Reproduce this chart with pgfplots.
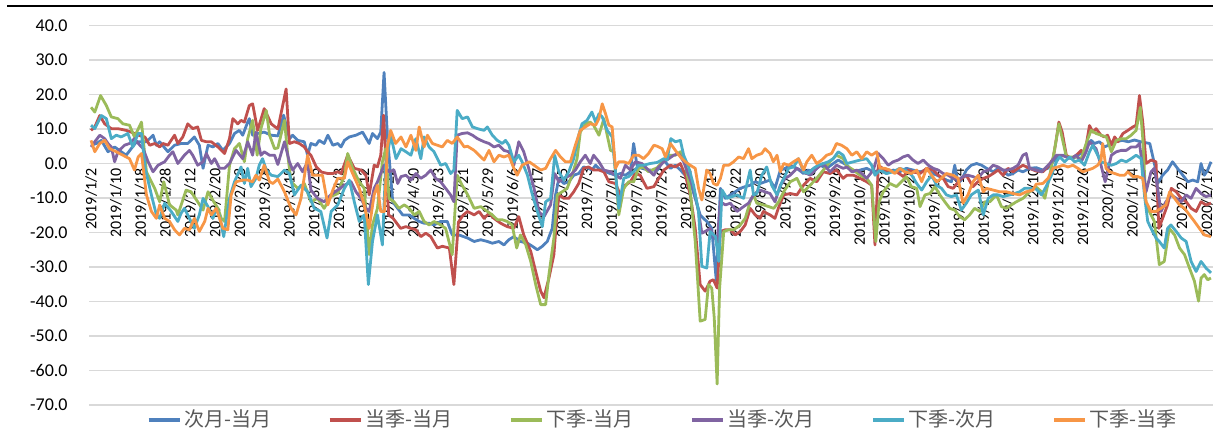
\documentclass[border=0pt]{standalone}
\usepackage{pgfplots}
\pgfplotsset{compat=1.18}
\usepackage{fontspec}
\setmainfont{Carlito}
\newfontfamily\cjk{Noto Sans CJK SC}
\definecolor{sA}{HTML}{4F81BD}
\definecolor{sB}{HTML}{C0504D}
\definecolor{sC}{HTML}{9BBB59}
\definecolor{sD}{HTML}{8064A2}
\definecolor{sE}{HTML}{4BACC6}
\definecolor{sF}{HTML}{F79646}
\definecolor{gridc}{HTML}{D9D9D9}
\begin{document}
\begin{tikzpicture}
\path[use as bounding box] (0,-219.5pt) rectangle (606.5pt,0);
\draw[black, line width=1.1pt] (3.5pt,-3pt) -- (606.5pt,-3pt);
\begin{axis}[
  at={(44.5pt,-202.5pt)}, anchor=south west,
  scale only axis, width=562pt, height=189.75pt,
  xmin=-0.5, xmax=271.5, ymin=-70, ymax=40,
  axis line style={draw=none},
  major tick length=0pt,
  ymajorgrids, grid style={gridc, line width=0.6pt},
  ytick={-70,-60,...,40},
  yticklabels={-70.0,-60.0,-50.0,-40.0,-30.0,-20.0,-10.0,0.0,10.0,20.0,30.0,40.0},
  yticklabel style={font=\fontsize{9}{10}\selectfont, inner sep=0pt, anchor=east, xshift=-10.5pt},
  xtick={0,6,...,270},
  xticklabels={2019/1/2,2019/1/10,2019/1/18,2019/1/28,2019/2/12,2019/2/20,2019/2/28,2019/3/8,2019/3/18,2019/3/26,2019/4/3,2019/4/12,2019/4/22,2019/4/30,2019/5/13,2019/5/21,2019/5/29,2019/6/6,2019/6/17,2019/6/25,2019/7/3,2019/7/11,2019/7/19,2019/7/29,2019/8/6,2019/8/14,2019/8/22,2019/8/30,2019/9/9,2019/9/18,2019/9/26,2019/10/11,2019/10/21,2019/10/29,2019/11/6,2019/11/14,2019/11/22,2019/12/2,2019/12/10,2019/12/18,2019/12/26,2020/1/6,2020/1/14,2020/1/22,2020/2/7,2020/2/17},
  xticklabel style={font=\fontsize{8}{9}\selectfont, inner sep=0pt, yshift=118.5pt, rotate=90, anchor=east},
  every axis plot/.append style={no markers, line width=1.4pt, line join=round},
  legend columns=6,
  legend style={at={(axis description cs:0.0516,-0.0395)}, anchor=west, draw=none, fill=none, inner sep=0pt, outer sep=0pt,
    font=\cjk\fontsize{10}{11}\selectfont, text=black!65,
    nodes={inner sep=1.5pt},
    /tikz/every even column/.append style={column sep=27pt}},
  legend image code/.code={\draw[#1, line width=1.6pt] (0pt,0pt) -- (15.5pt,0pt);},
]
\addplot[sA] coordinates {(0,5.3)(1.3,5.8)(2.5,6.7)(4.1,3.4)(5.7,4.8)(7.3,3.4)(8.5,2.4)(9.7,4.3)(11,6.3)(13.4,6.3)(15,8.2)(15.8,5.3)(16.6,6.3)(18.6,3.4)(20.2,5.3)(21.8,5.8)(23.4,5.8)(25,7.7)(26.2,5.3)(27.1,-1.4)(28.3,5.3)(29.5,4.8)(30.7,5.8)(31.9,3.8)(33.5,5.8)(34.7,8.7)(35.9,9.6)(36.7,8.2)(37.9,12)(38.3,13)(39.1,8.2)(40.3,8.7)(41.9,9.1)(43.6,8.2)(45.2,8)(46.6,14)(48,7.2)(48.8,8.2)(50,6.7)(51.6,6.3)(52.4,2.4)(53.2,5.8)(54.4,5.3)(55.2,6.7)(56.4,5.8)(57.3,8.2)(58.5,5.3)(59.7,5.8)(60.5,4.8)(61.3,6.7)(62.5,7.7)(64.1,8.2)(65.7,9.1)(67.3,5.8)(68.1,8.7)(69.3,7.2)(70.1,9.1)(70.9,26.4)(71.7,8.2)(73,-11.1)(74.2,-13)(75.4,-14.9)(77,-14.9)(78.2,-15.9)(79.4,-16.8)(80.6,-17.3)(81.8,-17.3)(83,-17.8)(84.6,-16.8)(86.2,-16.8)(87.4,-20.7)(89,-20.7)(91.1,-21.6)(92.7,-22.6)(94.3,-22.1)(95.9,-22.6)(97.1,-23.1)(98.7,-22.6)(99.9,-23.6)(101.1,-22.1)(102.3,-21.2)(103.9,-22.6)(105.6,-23.1)(106.8,-24)(108,-25)(109.2,-24)(110.4,-22.6)(111.6,-18.8)(112.4,-9.1)(113.2,-4.3)(114.4,-5.8)(115.6,-5.3)(116.8,-3.4)(118,-2.9)(119.2,-1)(120.4,-1.4)(121.2,-1.9)(122.1,-0.5)(123.3,-1.9)(124.5,-2.4)(125.7,-2.9)(126.9,-3.4)(128.1,-2.9)(129.3,-3.4)(130.5,-2.4)(131.3,5.8)(132.1,-0.5)(133.3,-1.4)(134.9,-1.9)(137,-2)(138.6,1)(140.2,-1.4)(141.4,-0.5)(142.6,-1.9)(143.8,-3.4)(145,-5.3)(146.2,-10.1)(147.4,-14.9)(148.2,-15.9)(149,-16.8)(150.2,-18.8)(151.3,-34)(152.3,-7.2)(153.5,-10.1)(154.7,-9.1)(155.9,-8.2)(157.1,-7.2)(158.3,-6.7)(159.5,-6.3)(160.7,-5.3)(161.9,-5.8)(163.1,-5.3)(164.3,-4.8)(165.5,-7.2)(166.8,-1.9)(168,-1.4)(169.2,-0.5)(170.8,-1.4)(172.4,-2.9)(173.6,-1.9)(174.8,-2.4)(176.4,-0.5)(178,-1.4)(179.6,0)(180.8,1)(182.9,-0.5)(184.5,-2.4)(186.1,-1.9)(187.7,-1.4)(189.3,-2.4)(190.9,-1.9)(192.5,-2.9)(194.1,-1.9)(195.7,-2.4)(197.3,-1.4)(198.9,-1.9)(200.6,-2.4)(202.2,-1.9)(203.8,-2.9)(205.4,-3.8)(207,-4.8)(208.2,-5.3)(209,-0.5)(209.8,-5.8)(210.6,-4.8)(211.8,-1.9)(213,-0.5)(214.3,0)(215.5,-0.5)(216.7,-1.4)(218.3,-2.4)(219.5,-1.4)(220.7,-1.9)(221.9,-3.4)(223.1,-2.9)(224.3,-1.9)(225.5,-2.4)(227.1,-1.4)(228.7,-1.2)(230.3,-1.9)(231.5,-1.4)(232.8,0.5)(234,1.9)(235.2,2.4)(236.4,1.9)(237.6,1.4)(238.8,2.4)(240,3.4)(241.2,5.3)(242,6.7)(242.8,5.8)(244,6.3)(245.2,4.8)(246.6,5.5)(248,6.3)(249.5,6.7)(251,6.3)(252.5,6.8)(254,6.3)(256.2,5.8)(257.4,-0.5)(258.1,-5.8)(259.3,-3.4)(260.5,-1.9)(261.7,0.5)(262.9,-1.4)(264.2,-3.4)(265.4,-5.3)(266.6,-4.8)(267.8,-5.3)(268.6,0)(269.4,-3.4)(270.2,-1.9)(271,0.5)};
\addlegendentry{次月-当月}
\addplot[sB] coordinates {(0,9.6)(0.9,10.6)(2.1,13.9)(3.3,11.5)(4.9,10.1)(6.5,10.1)(8.5,9.6)(9.7,9.1)(11.4,8.2)(13,7.7)(14.2,5.3)(15.4,5.8)(16.6,4.8)(17.4,5.8)(18.6,5.3)(20.2,8.2)(21,5.8)(22.2,7.7)(23.4,11.5)(24.6,10.1)(25.8,10.6)(26.7,6.7)(27.9,6.3)(29.1,6.3)(30.7,4.8)(32.3,2.9)(33.5,7.2)(34.3,13)(35.5,11.5)(36.3,12.5)(37.1,12)(38.3,16.8)(39.1,17.3)(40.3,9.6)(41.9,15.9)(43.6,11.5)(45.2,10)(47.2,21.6)(48,5.8)(49.2,6.3)(50.4,5.8)(51.6,4.8)(52.4,3.4)(53.2,2.4)(54.5,-1)(55.8,-2.5)(57.3,-2.9)(58.5,-2.9)(59.7,-2.4)(60.5,-2.9)(62.1,2.4)(63.7,-1.4)(65.3,-1.9)(66.5,-3.4)(67.3,-9.1)(68.5,-0.5)(69.3,-1)(70.1,2.4)(70.8,14)(72,-14.9)(73.1,-15.9)(74.9,-18.8)(76.2,-18.3)(77.4,-18.8)(78.6,-19.2)(79.8,-21.2)(81,-20.2)(82.2,-21.2)(83.8,-24.5)(85,-24)(86.7,-24.5)(87.8,-35.1)(88.9,-17)(90,-15)(91.1,-13.9)(92.7,-14.9)(93.9,-13.9)(95.1,-15.9)(96.3,-14.4)(97.5,-15.9)(99.1,-17.3)(100.7,-18.3)(102.3,-18.8)(103.5,-15.4)(104.7,-20.7)(106.4,-25.5)(107.6,-31.3)(108.8,-37)(109.6,-38.9)(110.8,-33.2)(112,-26.4)(112.6,-16.8)(113.2,-9.1)(114.4,-10.1)(115.6,-10.1)(116.8,-8.2)(118,-5.8)(119.2,-1.4)(120.4,-1)(121.6,-1.9)(122.9,-1.9)(124.1,-2.4)(125.3,-5.3)(126.9,-5.8)(128.1,-9.1)(129.3,-6.3)(130.5,-5.3)(131.7,-2.9)(132.9,-3.4)(134.5,-7.2)(136.2,-6.7)(137,-5)(138.6,-1.9)(140.2,-0.5)(141.4,-1)(142.6,0)(143.8,-3.4)(145,-9.1)(146.2,-18.8)(147.4,-35.1)(148.6,-37)(149.8,-34.1)(150.6,-33.7)(151.5,-36.1)(152.3,-19.7)(153.5,-19.2)(154.7,-19.2)(155.9,-20.7)(157.1,-19.7)(158.3,-17.8)(159.5,-13)(160.7,-14.9)(161.9,-15.9)(162.7,-13.9)(164.3,-14.9)(165.5,-15.9)(166.3,-13)(167.6,-9.1)(169.2,-8.7)(170.8,-9.1)(172.4,-6.3)(174,-4.3)(175.6,-5.3)(177.2,-2.4)(178.8,-2.9)(180.4,-1.9)(182,-4.3)(182.9,-3.4)(184.5,-3.4)(186.1,-4.3)(187.7,-5.3)(188.9,-6.3)(189.7,-23.6)(190.5,-0.5)(192.1,-1.9)(193.3,-2.4)(194.9,-2.4)(196.6,-3.8)(197.7,-1.9)(198.9,-2.4)(200.6,-2.9)(202.2,-1.4)(203.8,-1.9)(205,-3.4)(206.2,-4.3)(207.4,-6.7)(208.6,-7.2)(210.2,-4.8)(211.8,-3.4)(213.4,-6.7)(214.6,-5.3)(215.9,-4.3)(217.1,-3.8)(218.3,-2.9)(219.5,-1.9)(220.7,-3.4)(221.9,-1.4)(223.1,-2.4)(224.3,-1.4)(225.5,-0.5)(227.1,-1.4)(228.7,-2.2)(230.3,-2.4)(231.5,-1)(232.8,1.4)(233.6,7.2)(234.2,12)(235,9.1)(236,2.4)(237.2,1.4)(238.4,2.4)(239.6,3.8)(240.4,2.4)(241.6,11)(242.4,9.1)(243.2,10.1)(244.4,8.2)(245.2,7.7)(246,8.2)(246.9,5.3)(247.7,7.7)(248.5,6.3)(249.7,8.7)(250.9,9.6)(252.1,10.6)(252.9,11.1)(253.7,19.7)(254.5,12)(255.3,0)(256.5,1)(257.7,0.5)(258.4,-18.8)(259.3,-15.9)(260.5,-12)(261.4,-7.2)(262.6,-8.2)(263.8,-10.1)(265,-11.1)(266.2,-13)(267.4,-13.9)(268.6,-11.1)(269.8,-12)(271,-11.5)};
\addlegendentry{当季-当月}
\addplot[sC] coordinates {(0,16.3)(0.9,14.9)(2.3,19.7)(3.7,16.8)(4.9,13.5)(6.5,13)(7.7,11.5)(9.3,11.1)(10.5,7.7)(12.2,12)(13.4,-2.4)(15.4,-7.2)(16.6,-11.1)(17.6,-5.3)(19,-12)(20.6,-13.5)(21,-14.9)(23,-7.7)(24.2,-8.2)(25.8,-11.1)(27.1,-13.5)(28.3,-8.2)(29.7,-11.1)(30.7,-13)(31.5,-15.9)(32.3,-16.8)(33.5,-0.5)(34.7,4.3)(35.9,5.8)(37.1,0.5)(37.9,7.2)(39.1,12.5)(40.2,2.4)(41.1,10.1)(42.4,15.4)(43.2,8.2)(44.4,4.3)(45.2,4.5)(46.8,12.5)(47.6,2.4)(48.4,-5.3)(50,-7.2)(51.6,-5.8)(53.2,-11.1)(54.8,-10.1)(56.4,-13)(58,-9.6)(59.7,-8.7)(61.3,-3.4)(62.1,2.9)(63.3,-1.4)(64.9,-5.3)(66.1,-7.2)(67.3,-26.4)(68.1,-17.8)(69.3,-13)(70.5,0.5)(71.3,4.3)(72.1,-10.1)(73.3,-11.1)(74.5,-13)(75.8,-12)(77,-13)(78.2,-14.9)(79.4,-13.9)(80.6,-16.8)(81.8,-17.8)(83,-16.8)(84.6,-17.8)(85.8,-18.8)(87.4,-26.4)(88.6,-3.4)(89.8,-6.3)(91.1,-9)(92.7,-13)(94.3,-12.5)(95.9,-13.9)(97.1,-14.9)(98.3,-16.3)(99.5,-16.3)(100.7,-16.8)(101.9,-17.8)(103,-24.5)(103.9,-20.7)(105.2,-23.6)(106.4,-28.4)(107.6,-35.1)(108.8,-40.9)(110,-40.9)(110.8,-32.2)(112,-21.6)(112.8,-9.1)(114,-8.2)(115.2,-7.2)(116.4,-3.4)(117.6,1.4)(118.4,9.1)(119.6,11.5)(120.8,12)(121.6,11.1)(122.9,8.2)(124.1,13)(124.9,8.2)(125.7,3.8)(126.5,3.4)(127.3,-8.2)(127.7,-14.9)(128.9,-7.2)(130.1,-5.3)(131.3,-5.3)(132.5,-1.4)(133.7,-1)(134.9,-2.4)(137,-1.2)(138.6,1)(140.2,2.4)(141.4,2.4)(142.6,3.4)(143.8,0)(145,-8.2)(146.2,-22.6)(147.4,-45.7)(148.6,-45.2)(149.4,-35.1)(150.2,-36.1)(150.8,-44.7)(151.5,-63.9)(152.1,-36.1)(153.1,-19.7)(154.3,-19.2)(155.5,-19.2)(157.1,-17.8)(158.3,-15.9)(159.5,-11.1)(160.3,-9.1)(161.1,-11.5)(162.7,-12)(164,-12.5)(165.2,-13)(166.4,-11.1)(167.6,-8.2)(169.2,-5.3)(170.8,-4.3)(172.4,-8.2)(174,-6.3)(175.6,-4.3)(177.2,-1.9)(178.8,0.5)(180.4,2.4)(182,1.4)(182.9,-0.7)(184.5,-1.9)(186.1,-3.4)(187.7,-4.3)(188.9,-6.3)(189.9,-22.6)(190.7,-11.1)(191.7,-8.2)(193.3,-5.8)(194.9,-6.7)(196.1,-5.3)(197.3,-3.8)(198.5,-6.7)(199.8,-7.2)(200.6,-12.5)(201.8,-9.1)(203,-8.7)(204.2,-6.7)(205.4,-9.1)(206.6,-11.1)(207.8,-13)(209,-13.5)(210.2,-15.4)(211.4,-16.3)(212.6,-14.9)(213.8,-13)(215.1,-13.9)(216.3,-11.1)(217.5,-11.1)(219.1,-9.1)(220.3,-12.5)(221.5,-13)(222.7,-12)(223.9,-11.1)(225.5,-10.1)(227.1,-8.2)(228.7,-6.8)(230,-8.2)(230.8,-10.1)(232,-3.4)(233.2,4.3)(234.2,11.5)(235.2,6.3)(236,1.9)(237.2,1.9)(238.4,1.9)(239.6,1.4)(240.8,5.8)(242,9.6)(243.2,8.7)(244.4,8.2)(245.7,7.7)(246.9,3.4)(248.1,6.7)(249.3,7.2)(250.5,7.2)(251.7,8.2)(252.9,9.6)(253.9,16.3)(254.5,7.2)(255.3,-12)(256.5,-14.9)(257.3,-16.8)(258.5,-29.3)(259.7,-28.4)(260.9,-18.8)(262.2,-20.7)(263.4,-24.5)(264.6,-26.4)(265.8,-30.3)(267,-34.1)(268,-39.9)(268.6,-33.2)(269.4,-32.2)(270.2,-33.7)(271,-33.2)};
\addlegendentry{下季-当月}
\addplot[sD] coordinates {(0,4.8)(0.9,6.3)(2.1,8.2)(3.3,7.2)(4.1,5.8)(4.9,4.8)(5.7,0.5)(6.5,3.4)(8.1,5.3)(9.3,5.8)(10.5,7.2)(11.8,5.3)(12.6,4.3)(13.8,0.5)(15,-2.4)(16.2,-0.5)(17.8,0.5)(19,2.4)(19.8,3.4)(21,0)(22.6,2.4)(23.8,3.8)(24.6,2.4)(25.8,-0.5)(27.1,0.5)(27.9,2.9)(29.1,0)(29.9,1.4)(31.1,-1.4)(32.3,-1.4)(33.5,0)(35.1,3.8)(36.7,1.4)(37.9,6.3)(39.1,2.4)(39.9,9.1)(41.1,2.4)(41.9,3.4)(43.2,2.4)(44.4,2.4)(45.2,-0.3)(46.8,6.3)(48,0.5)(48.8,-1.9)(50,0)(51.2,-2.4)(52.4,0.5)(53.2,-7.7)(54.8,-10.1)(56.4,-11.1)(58,-9.1)(61.3,-6.3)(62.9,-5.3)(64.1,-8.2)(65.3,-10.1)(66.5,-13)(67.3,-13.9)(68.5,-7.2)(69.3,-5.3)(70.9,-0.5)(72.1,-2.4)(73.3,-1.9)(74.2,-5.8)(75,-3.8)(76.2,-3.4)(77.4,-4.8)(78.6,-2.9)(79.8,-4.3)(81,-3.4)(82.2,-1.9)(83.4,-4.3)(84.6,-5.3)(85.8,-7.2)(87,-9.1)(87.8,-11.1)(88.6,8.2)(89.8,8.7)(91.1,8.9)(92.3,8.2)(93.5,7.2)(95.1,6.3)(96.3,5.8)(97.5,4.8)(98.7,5.3)(99.9,3.8)(101.1,3.4)(102.3,-0.5)(103.5,6.3)(104.7,3.4)(105.9,-1.4)(107.2,-7.2)(108.4,-14)(109.6,-15.4)(111.2,-12)(112.2,-2.9)(113.2,-5.3)(114.4,-4.3)(116,-3.4)(117.2,-1.9)(118.4,0.5)(119.6,2.4)(120.8,0)(121.6,2.4)(122.9,0.5)(124.1,-1.9)(125.7,-2.4)(126.9,-3.4)(128.1,-4.3)(129.3,-0.5)(130.5,-1.9)(131.7,0.5)(133.3,0)(134.9,-1.9)(136.2,-3.4)(137,-1.5)(138.6,0.5)(139.8,1.4)(141,2.4)(142.2,2.9)(143.4,0.5)(144.6,-3.4)(145.8,-7.2)(147,-13.9)(147.8,-20.2)(148.6,-19.7)(149.8,-18.8)(150.6,-21)(151.5,-22.6)(152.3,-11.1)(153.5,-12)(154.7,-11.5)(156.3,-13.9)(157.9,-12.5)(159.1,-11.5)(160.3,-9.1)(161.9,-7.7)(163.1,-8.2)(164.3,-8.7)(165.5,-11.1)(166.8,-6.3)(168,-4.3)(169.2,-3.4)(170.8,-1.4)(172.4,-2.4)(174,-3.4)(175.6,-1.4)(177.2,0)(178.8,-2.4)(180.4,-0.5)(182,-1.4)(182.9,-1)(184.1,-2.4)(185.3,-1.9)(186.5,-2.9)(187.7,-4.3)(189.3,-1.9)(190.5,2.9)(191.7,1.4)(192.9,-0.5)(194.1,0.5)(195.3,1)(196.5,1.9)(197.7,2.4)(198.9,1)(200.1,0)(201.4,1)(202.6,-0.5)(203.8,-1.4)(205,-1.9)(206.2,-2.9)(207.4,-3.4)(208.6,-4.3)(209.8,-4.8)(211,-3.8)(212.2,-3.4)(213.4,-3.8)(214.6,-4.3)(215.9,-2.4)(217.1,-1.9)(218.3,-0.5)(219.5,-1)(220.7,-1.9)(221.9,-1.9)(223.1,-1.4)(224.3,-0.5)(225.5,2.4)(226.3,2.9)(227.1,-1.4)(228.7,-1.9)(230,-2.4)(231.2,-1)(232.4,0.5)(233.6,2.4)(234.8,2.4)(236,1.9)(237.2,1.4)(238.4,2.4)(239.6,0.5)(240.8,3.4)(241.6,6.3)(242.4,5.3)(243.2,4.3)(244.4,-0.5)(245.4,-5.3)(246.9,2.4)(248.1,3.4)(249.3,3.8)(250.5,3.8)(251.7,4.8)(252.9,4.8)(253.7,5.8)(254.5,-1.4)(255.3,-8.2)(256.5,-2.4)(257.3,-1.4)(258.1,-7.2)(258.9,-13.9)(260.1,-11.1)(261.4,-9.1)(262.6,-10.1)(263.8,-11.1)(265,-9.1)(266.2,-10.1)(267.4,-7.2)(268.6,-8.7)(269.8,-9.6)(271,-9.1)};
\addlegendentry{当季-次月}
\addplot[sE] coordinates {(0,11.1)(0.9,10.1)(2.5,13.9)(3.7,13)(4.9,7.2)(6.1,8.2)(7.3,7.7)(8.9,8.7)(10.1,4.8)(11.4,8.7)(12.2,8.7)(13.1,-1.4)(14.6,-9.1)(15.8,-14.9)(16.6,-15.9)(17.8,-11.5)(19.4,-13.9)(21,-16.8)(21.8,-14.4)(22.6,-13)(23.8,-15.9)(25,-18.8)(26.2,-14.9)(27.1,-10.1)(28.3,-12.5)(29.5,-15.9)(30.3,-13)(31.1,-15.4)(32.1,-21.2)(33.5,-10.1)(34.7,-5.3)(36.3,-1)(37.1,-5.8)(37.9,-1.4)(38.7,-6.7)(39.9,-4.3)(40.7,-0.5)(41.5,1.4)(42.4,-1.9)(43.6,-3.4)(45.2,-3.8)(46.8,-1.9)(48,-2.9)(49.2,-9.1)(50.8,-6.3)(52.4,-8.2)(54,-13)(55.6,-13.9)(57.1,-21.6)(58.1,-13.9)(59.7,-12)(61.3,-7.2)(62.5,-4.8)(63.7,-11.1)(64.9,-16.8)(66.1,-14.9)(67.1,-35.1)(68.1,-22.6)(69.3,-14.9)(70.5,-23.6)(71.3,-0.5)(72.5,8.2)(73.8,1.4)(75,4.3)(76.2,3.4)(77.4,2.4)(78.6,7.2)(79.8,1.4)(80.6,7.7)(81.8,4.8)(83,3.4)(84.6,-0.5)(85.8,0)(87,-2.9)(87.8,-1.9)(88.6,15.4)(89.8,13)(91.1,13.5)(92.3,10.6)(93.5,10.1)(95.1,9.6)(95.9,10.6)(97.1,8.2)(98.3,6.7)(99.5,5.8)(100.3,6.7)(101.1,5.3)(102.3,0.5)(103.5,2.4)(104.3,0.5)(105.6,-3.4)(106.8,-9.1)(108,-13.9)(109.2,-18.3)(110,-11.1)(111.2,-10.1)(112.2,2.4)(113.2,-2.4)(114.4,-4.8)(115.6,-2.4)(116.8,1.4)(118,8.2)(118.8,11.5)(120,12.5)(121.2,14.9)(122.1,12)(122.9,14.4)(123.7,13.5)(124.9,9.6)(126.1,7.7)(126.9,-2.4)(127.7,-13)(128.9,-4.3)(130.1,-3.8)(131.3,-2.4)(132.5,-0.5)(133.7,-0.5)(135.3,0)(137,0.3)(138.6,1.4)(139.4,1)(140.3,7.2)(141.4,6.3)(142.6,6.7)(143.4,2.4)(144.6,-1)(145.8,-6.3)(147,-13.9)(147.8,-29.8)(149,-30.3)(149.8,-19.7)(151.1,-21.2)(151.9,-28.4)(152.7,-7.7)(153.9,-10.1)(155.1,-9.6)(156.3,-9.1)(157.9,-10.1)(159.5,-1.9)(160.3,-9.1)(161.1,-8.7)(162.3,-3.4)(163.5,-1)(164.7,-6.3)(166,-9.1)(167.2,-5.3)(168.8,-1.4)(170,-1)(171.2,1.4)(172.4,-2.4)(173.6,-2.9)(174.8,-1.4)(176,-0.5)(177.2,0)(178.4,0.5)(179.6,1.4)(180.8,3.4)(182,2.4)(182.9,0)(184.5,0.5)(186.1,1)(187.7,1.4)(188.9,-0.5)(189.7,-3.4)(190.9,-1.9)(192.5,-2.9)(194.1,-2.4)(195.7,-1.4)(197,-1.9)(198.6,-3.4)(199.8,-5.8)(201,-7.7)(202.2,-5.3)(203.4,-3.4)(204.6,-6.3)(205.8,-7.2)(207,-9.1)(208.2,-9.6)(209.4,-9.1)(210.6,-13.5)(211.8,-11.5)(213,-9.1)(214.7,-7.7)(215.9,-14.9)(217.1,-10.1)(218.3,-9.1)(219.5,-9.1)(220.7,-9.6)(222.3,-9.1)(223.5,-8.7)(224.7,-8.2)(225.9,-7.2)(227.1,-7.2)(228.7,-7.4)(230,-9.1)(231.1,-6.7)(232.4,-3.4)(233.6,0.5)(234.4,1.9)(235.6,0.5)(236.8,1.9)(238,0.5)(239.2,1)(240.4,-0.5)(241.6,3.4)(242.4,5.3)(243.2,3.4)(244.4,0.5)(245.6,0)(246.9,-0.5)(248.1,0)(249.3,1)(250.5,0.5)(251.7,1.4)(252.9,2.4)(254.1,1.4)(254.9,-9.1)(255.7,-16.8)(256.5,-18.8)(257.7,-21.6)(258.5,-22.6)(259.7,-24.5)(260.5,-18.8)(261.3,-17.8)(262.6,-19.7)(263.8,-21.6)(265,-22.6)(266.2,-28.4)(267.4,-31.3)(268.6,-28.4)(269.8,-30.3)(271,-31.7)};
\addlegendentry{下季-次月}
\addplot[sF] coordinates {(0,6.7)(0.9,3.4)(2.1,5.8)(3.3,6.7)(4.5,4.3)(6.1,3.4)(7.7,2.4)(9.3,1.4)(10.5,-1.9)(11.4,1.9)(12.2,2.9)(13.4,-9.1)(14.6,-13.9)(15.8,-15.9)(16.6,-12)(17.8,-15.9)(19,-16.8)(20.2,-19.2)(21.4,-20.7)(22.6,-18.8)(23.8,-19.2)(25,-15.9)(26.2,-19.7)(27.5,-16.8)(28.3,-13)(29.1,-14.9)(30.3,-13)(31.1,-15.9)(31.9,-18.8)(33.1,-19.2)(33.9,-9.1)(35.1,-5.3)(36.7,-4.8)(37.9,-4.8)(39.1,-5.3)(39.9,-3.4)(40.7,-4.8)(41.9,-0.5)(43.2,-5.3)(44,-5.8)(45.2,-4.5)(46.8,-8.2)(48.4,-13)(49.6,-14.9)(50.8,-10.1)(52.4,2.4)(53.6,-3.4)(54.8,-3.4)(56,-3.4)(57.3,-12)(58.5,-7.7)(59.7,-4.3)(61.3,-4.3)(62.1,0.5)(63.3,-2.9)(64.9,-7.2)(66.1,-12)(67.3,-18.8)(68.5,-9.1)(69.3,-6.3)(70.1,-13.9)(71,-13.9)(71.7,5)(72.5,9.6)(73.7,5.8)(75,7.7)(76.2,4.8)(77.4,8.2)(78.6,3.8)(79.4,10.6)(80.6,4.8)(81.4,8.2)(82.6,5.8)(83.8,5.3)(85,4.8)(86.2,6.7)(87.4,5.8)(88.6,7.7)(90.3,4.8)(91.1,5)(92.7,3.8)(93.9,2.4)(95.1,1)(96.3,3.8)(97.5,0.5)(98.7,2.4)(99.9,1.9)(101.1,2.4)(102.3,-1.4)(103.1,-3.4)(104.3,-0.5)(106,0.5)(107.2,-0.5)(108.8,-1.9)(110,-1.4)(111.2,1.4)(112.4,3.8)(113.6,1.9)(114.8,0.5)(116,0.5)(117.2,5.3)(118.4,9.6)(119.6,10.6)(120.8,11.5)(122.1,11.1)(122.9,13)(123.7,17.3)(124.5,14.4)(125.3,11.1)(126.1,10.6)(126.9,-1.4)(127.7,0.5)(128.9,0.5)(130.1,0)(131.3,2.4)(132.5,2.4)(133.7,1.4)(134.9,2.9)(136.2,5.3)(137,5)(138.2,4.3)(139,1.9)(140.2,5.8)(141.4,3.8)(142.6,1.9)(143.8,0.5)(145,-0.5)(146.2,-1.4)(147,-7.2)(147.8,-10.6)(149,-1.9)(149.8,-2.9)(150.6,-5.8)(151.5,-6.3)(152.3,-4.3)(153.1,-0.5)(154.3,-0.5)(155.5,0.5)(156.7,1.9)(157.9,1.4)(159.1,4.3)(159.9,1.4)(161.1,2.4)(162.3,2.9)(163.1,4.3)(164.3,2.9)(165.1,0.5)(166,2.4)(166.8,-2.4)(167.6,0)(168.8,-0.5)(170,0.5)(171.2,1.4)(172.4,-1.9)(173.2,0.5)(174.4,2.4)(175.6,0)(176.8,1)(178,2.4)(179.2,2.9)(180.4,5.8)(181.6,5.3)(182.9,4.3)(184.1,2.4)(185.3,3.4)(186.5,1.4)(187.7,3.4)(188.9,2.4)(190.1,3.4)(190.9,-1.4)(192.1,-1.4)(193.3,-1.9)(194.5,-2.9)(195.7,-1.4)(196.9,-2.4)(198.5,-2.9)(199.8,-1.9)(201,-5.3)(202.2,-1.4)(203.4,-3.4)(204.6,-5.3)(205.8,-4.3)(207,-2.9)(208.6,-3.4)(209.8,-4.3)(211,-11.5)(212.2,-9.1)(213.4,-5.3)(214.7,-3.4)(215.9,-8.2)(216.7,-7.2)(218.3,-7.7)(219.9,-8.2)(221.5,-8.2)(223.1,-8.7)(224.7,-9.1)(226.3,-8.2)(227.9,-7.7)(228.7,-6)(230.3,-5.8)(231.6,-4.3)(232.8,-1.4)(234,-1)(235.2,-0.5)(236.4,-1)(237.6,-0.5)(238.8,-1.4)(240,-2.4)(241.2,-1.9)(242.4,-1.4)(243.6,-0.5)(244.4,1)(244.8,5.8)(245.6,-1.4)(246.5,-2.4)(247.7,-2.9)(248.9,-3.4)(250.1,-3.4)(250.9,-2.4)(252.1,-3.8)(253.3,-3.8)(254.5,-4.3)(255.3,-11.1)(256.5,-13.9)(257.7,-13.9)(258.9,-13)(260.1,-12)(261,-8.2)(262.2,-10.1)(263.4,-12)(264.6,-13)(265.8,-14.9)(267,-16.8)(268.2,-18.8)(269.4,-20.7)(271,-21.2)};
\addlegendentry{下季-当季}
\end{axis}
\end{tikzpicture}
\end{document}
